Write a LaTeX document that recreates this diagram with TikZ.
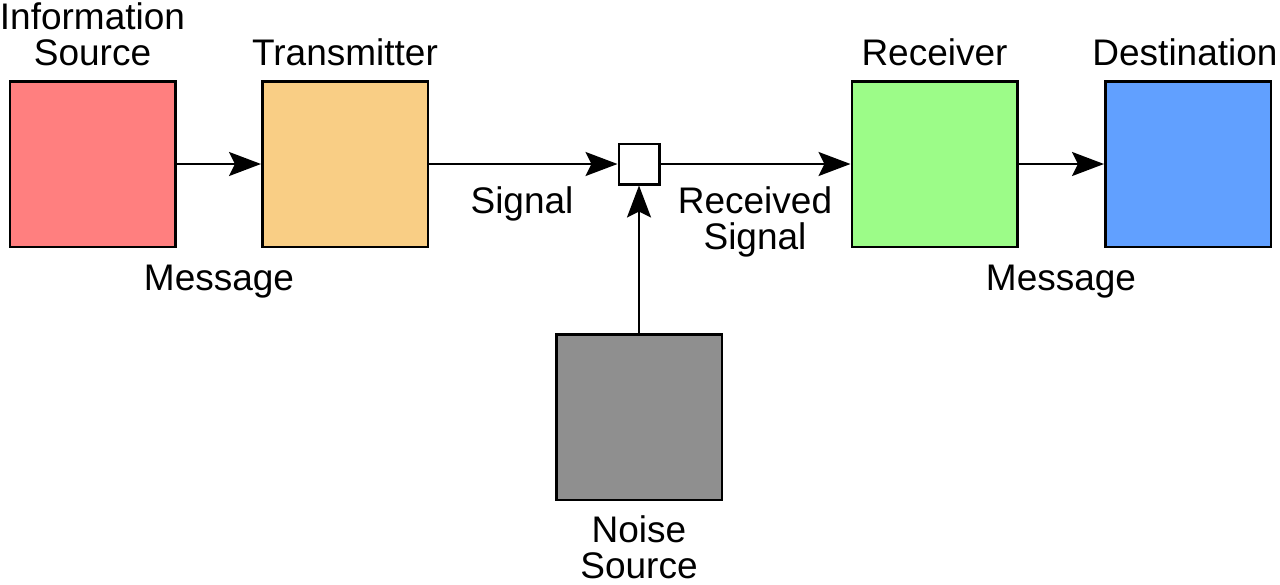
\documentclass[tikz,border=0pt]{standalone}
\usepackage{fontspec}
\setmainfont{Liberation Sans}
\usetikzlibrary{arrows.meta}
\definecolor{srcred}{HTML}{FF7F7F}
\definecolor{txorange}{HTML}{F9CE85}
\definecolor{rxgreen}{HTML}{9CFC88}
\definecolor{dstblue}{HTML}{61A0FF}
\definecolor{noisegray}{HTML}{8F8F8F}
\begin{document}
\begin{tikzpicture}[x=.5pt,y=-.5pt,line width=1.25pt,
    box/.style={draw,minimum size=82.75pt,inner sep=0pt},
    txt/.style={font=\fontsize{18.5}{18}\selectfont,align=center,anchor=base,inner sep=0pt},
    >={Stealth[length=16pt,width=12pt,inset=3pt]}]
  \useasboundingbox (0,0) rectangle (1280,584);
  % blocks
  \node [box,fill=srcred] (Source) at (92.5,164) {};
  \node [box,fill=txorange] (Trans) at (345,164) {};
  \node [draw,fill=white,minimum size=20.25pt,inner sep=0pt] (Mix) at (639,164) {};
  \node [box,fill=rxgreen] (Recv) at (934.5,164) {};
  \node [box,fill=dstblue] (Dest) at (1188,164) {};
  \node [box,fill=noisegray] (Noise) at (639,417) {};
  % labels (base = last line)
  \node [txt] (SourceLbl) at (92.5,65) {Information\\Source};
  \node [txt] (TransLbl) at (345,65) {Transmitter};
  \node [txt] (RecvLbl) at (934.5,65) {Receiver};
  \node [txt] (DestLbl) at (1185,65) {Destination};
  \node [txt] (MsgIn) at (219,290) {Message};
  \node [txt] (MsgOut) at (1061,290) {Message};
  \node [txt] (SigLbl) at (522,213) {Signal};
  \node [txt] (RxSigLbl) at (755,249) {Received\\Signal};
  \node [txt] (NoiseLbl) at (639,578) {Noise\\Source};
  % links
  \draw [->] (Source) -- (Trans);
  \draw [->] (Trans) -- (Mix);
  \draw [->] (Mix) -- (Recv);
  \draw [->] (Recv) -- (Dest);
  \draw [->] (Noise) -- (Mix);
\end{tikzpicture}
\end{document}
